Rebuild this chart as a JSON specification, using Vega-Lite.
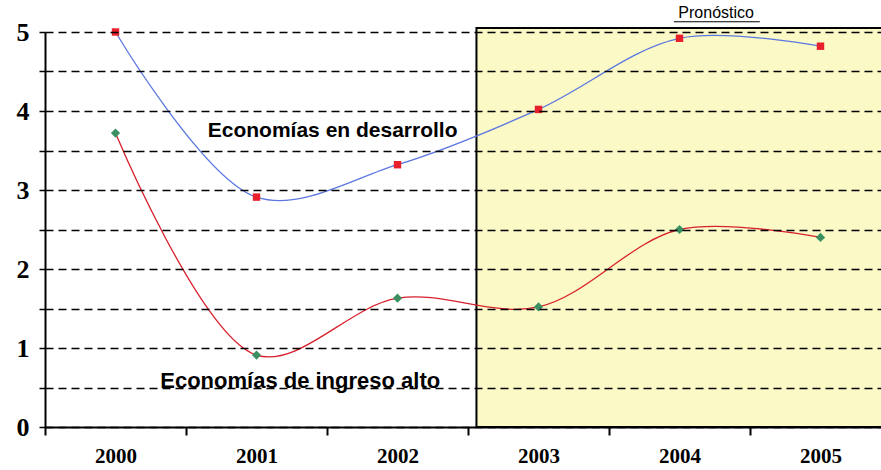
{
  "$schema": "https://vega.github.io/schema/vega-lite/v6.json",
  "width": 846,
  "height": 395,
  "autosize": {"type": "none"},
  "padding": {"left": 45, "top": 32, "right": 0, "bottom": 43},
  "background": "white",
  "config": {"view": {"stroke": null}},
  "datasets": {
    "zone": [{"year": 2002.56, "year2": 2005.5, "value": 0, "value2": 5.05}],
    "series": [
      {"year": 2000, "value": 5.0, "serie": "Economías en desarrollo"},
      {"year": 2001, "value": 2.91, "serie": "Economías en desarrollo"},
      {"year": 2002, "value": 3.32, "serie": "Economías en desarrollo"},
      {"year": 2003, "value": 4.02, "serie": "Economías en desarrollo"},
      {"year": 2004, "value": 4.92, "serie": "Economías en desarrollo"},
      {"year": 2005, "value": 4.82, "serie": "Economías en desarrollo"},
      {"year": 2000, "value": 3.72, "serie": "Economías de ingreso alto"},
      {"year": 2001, "value": 0.91, "serie": "Economías de ingreso alto"},
      {"year": 2002, "value": 1.63, "serie": "Economías de ingreso alto"},
      {"year": 2003, "value": 1.52, "serie": "Economías de ingreso alto"},
      {"year": 2004, "value": 2.5, "serie": "Economías de ingreso alto"},
      {"year": 2005, "value": 2.4, "serie": "Economías de ingreso alto"}
    ],
    "labels": [
      {"year": 2001.54, "value": 3.75, "text": "Economías en desarrollo", "size": 21},
      {"year": 2001.31, "value": 0.58, "text": "Economías de ingreso alto", "size": 22}
    ],
    "note": [{"year": 2004.26, "value": 5.24, "text": "Pronóstico"}],
    "underline": [{"year": 2003.96, "year2": 2004.57, "value": 5.13}]
  },
  "resolve": {"scale": {"color": "independent", "shape": "independent", "size": "independent"}},
  "layer": [
    {
      "data": {"name": "zone"},
      "mark": {"type": "rect", "fill": "#fbf9c6", "stroke": "black", "strokeWidth": 2},
      "encoding": {
        "x": {
          "field": "year", "type": "quantitative",
          "scale": {"domain": [1999.5, 2005.5], "nice": false, "zero": false},
          "axis": {
            "title": null, "values": [2000, 2001, 2002, 2003, 2004, 2005], "format": "d",
            "tickOffset": -70.5, "labelOffset": 70.5, "grid": false,
            "domainColor": "black", "domainWidth": 2, "tickColor": "black", "tickWidth": 2, "tickSize": 8,
            "labelFont": "Liberation Serif", "labelFontWeight": "bold", "labelFontSize": 21,
            "labelColor": "black", "labelPadding": 10, "zindex": 1
          }
        },
        "x2": {"field": "year2"},
        "y": {
          "field": "value", "type": "quantitative",
          "scale": {"domain": [0, 5], "nice": false},
          "axis": {
            "title": null, "tickCount": 10,
            "labelExpr": "datum.value % 1 === 0 ? format(datum.value, 'd') : ''",
            "grid": true, "gridColor": "black", "gridDash": [8, 5], "gridWidth": 1.6, "gridOpacity": 1,
            "domainColor": "black", "domainWidth": 2, "tickColor": "black", "tickWidth": 1.5, "tickSize": 6,
            "labelFont": "Liberation Serif", "labelFontWeight": "bold", "labelFontSize": 26,
            "labelColor": "black", "labelPadding": 10, "labelOverlap": false, "zindex": 1
          }
        },
        "y2": {"field": "value2"}
      }
    },
    {
      "data": {"name": "series"},
      "mark": {"type": "line", "interpolate": "catmull-rom", "strokeWidth": 1.3},
      "encoding": {
        "x": {"field": "year", "type": "quantitative"},
        "y": {"field": "value", "type": "quantitative"},
        "color": {
          "field": "serie", "type": "nominal", "legend": null,
          "scale": {"domain": ["Economías en desarrollo", "Economías de ingreso alto"], "range": ["#5b78e0", "#d8202c"]}
        }
      }
    },
    {
      "data": {"name": "series"},
      "mark": {"type": "point", "filled": true, "opacity": 1},
      "encoding": {
        "x": {"field": "year", "type": "quantitative"},
        "y": {"field": "value", "type": "quantitative"},
        "shape": {
          "field": "serie", "type": "nominal", "legend": null,
          "scale": {"domain": ["Economías en desarrollo", "Economías de ingreso alto"], "range": ["square", "diamond"]}
        },
        "size": {
          "field": "serie", "type": "nominal", "legend": null,
          "scale": {"domain": ["Economías en desarrollo", "Economías de ingreso alto"], "range": [55, 85]}
        },
        "color": {
          "field": "serie", "type": "nominal", "legend": null,
          "scale": {"domain": ["Economías en desarrollo", "Economías de ingreso alto"], "range": ["#e8202c", "#3a9060"]}
        }
      }
    },
    {
      "data": {"name": "labels"},
      "mark": {"type": "text", "font": "Liberation Sans", "fontWeight": "bold", "color": "black", "align": "center", "baseline": "middle"},
      "encoding": {
        "x": {"field": "year", "type": "quantitative"},
        "y": {"field": "value", "type": "quantitative"},
        "text": {"field": "text"},
        "size": {"field": "size", "type": "quantitative", "scale": null}
      }
    },
    {
      "data": {"name": "note"},
      "mark": {"type": "text", "font": "Liberation Sans", "fontSize": 16, "color": "black", "align": "center", "baseline": "middle"},
      "encoding": {
        "x": {"field": "year", "type": "quantitative"},
        "y": {"field": "value", "type": "quantitative"},
        "text": {"field": "text"}
      }
    },
    {
      "data": {"name": "underline"},
      "mark": {"type": "rule", "color": "black", "strokeWidth": 1.2},
      "encoding": {
        "x": {"field": "year", "type": "quantitative"},
        "x2": {"field": "year2"},
        "y": {"field": "value", "type": "quantitative"}
      }
    }
  ]
}
